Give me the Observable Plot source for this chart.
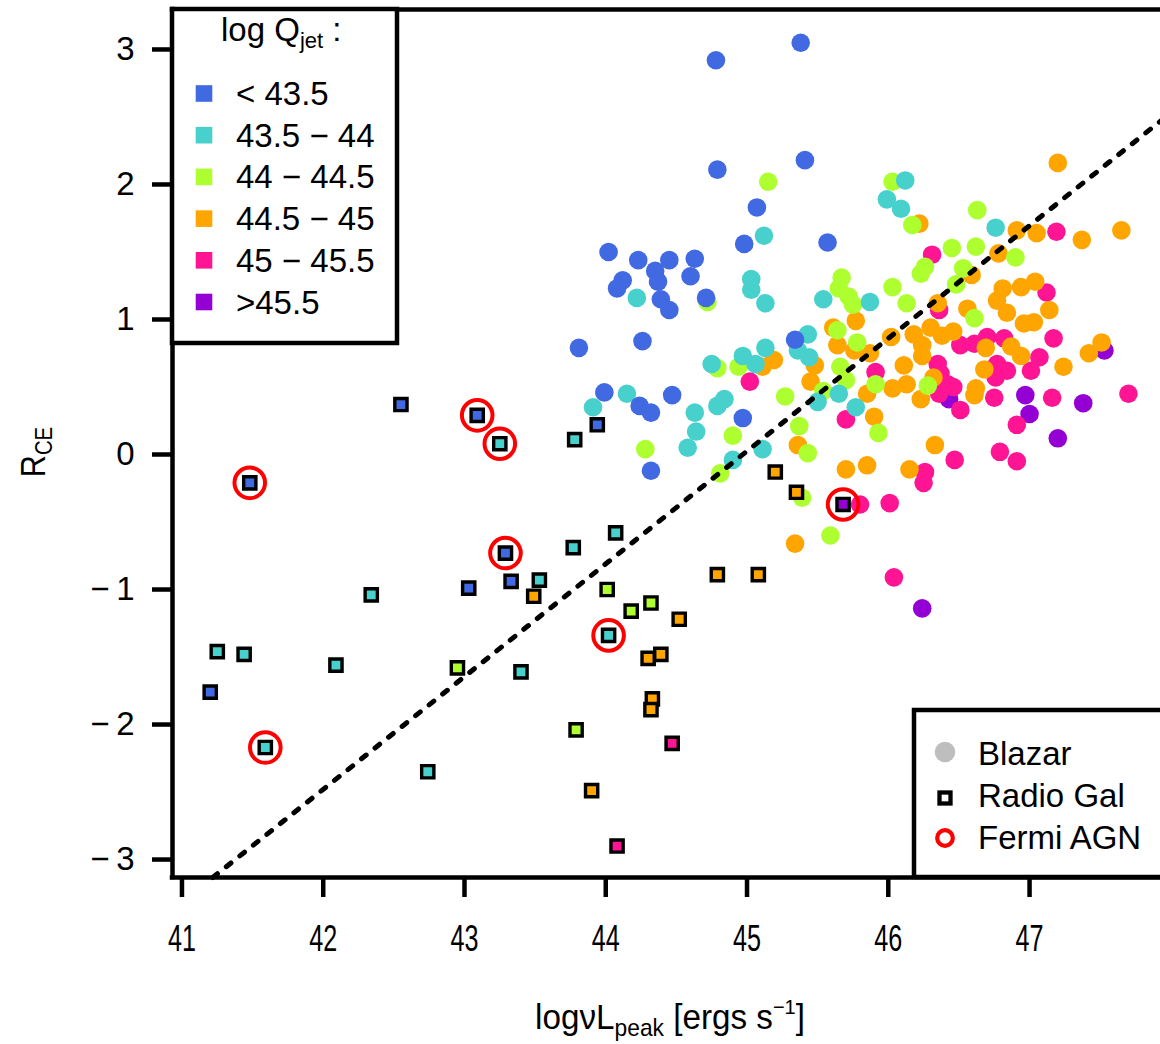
<!DOCTYPE html>
<html><head><meta charset="utf-8">
<script src="https://cdn.jsdelivr.net/npm/d3@7"></script>
<script src="https://cdn.jsdelivr.net/npm/@observablehq/plot@0.6"></script>
<style>
html,body{margin:0;padding:0;background:#fff;}
#chart{width:1160px;height:1044px;overflow:hidden;position:relative;}
</style></head><body><div id="chart"></div>
<script>
// ---------- axes ----------
const xDomain = [40.933, 47.927];
const yDomain = [-3.133, 3.296];
const xTicks = [41, 42, 43, 44, 45, 46, 47];
const yTicks = [-3, -2, -1, 0, 1, 2, 3];

// ---------- categories ----------
const groups = ["< 43.5", "43.5 \u2212 44", "44 \u2212 44.5", "44.5 \u2212 45", "45 \u2212 45.5", ">45.5"];
const groupColors = ["#4169E1", "#48D1CC", "#ADFF2F", "#FFA500", "#FF1493", "#9400D3"];
const typeLabels = ["Blazar", "Radio Gal", "Fermi AGN"];

// ---------- blazars (circles), per log Qjet bin ----------
const blueX = [45.38, 44.78, 44.79, 45.41, 45.07, 44.98, 45.57, 44.02, 44.23, 44.45, 44.63, 44.35, 44.37, 44.60, 44.12, 44.08, 44.39, 44.45, 44.71, 43.81, 44.26, 45.34, 43.99, 44.47, 44.24, 44.32, 44.97, 44.32];
const blueY = [3.05, 2.92, 2.11, 2.18, 1.83, 1.56, 1.57, 1.50, 1.44, 1.44, 1.45, 1.36, 1.28, 1.32, 1.29, 1.23, 1.15, 1.07, 1.16, 0.79, 0.84, 0.85, 0.46, 0.44, 0.36, 0.31, 0.27, -0.12];

const cyanX = [45.12, 44.22, 45.03, 45.03, 45.13, 45.54, 45.43, 45.36, 45.44, 44.75, 44.97, 45.13, 45.06, 44.15, 43.91, 44.63, 44.79, 44.84, 45.50, 45.65, 45.77, 44.64, 44.58, 45.11, 44.90, 46.12, 45.99, 46.09, 46.76, 45.87];
const cyanY = [1.62, 1.16, 1.30, 1.22, 1.12, 1.15, 0.89, 0.77, 0.72, 0.67, 0.73, 0.79, 0.67, 0.45, 0.35, 0.31, 0.36, 0.41, 0.39, 0.45, 0.35, 0.17, 0.05, 0.04, -0.04, 2.03, 1.89, 1.82, 1.68, 1.13];

const limeX = [45.15, 46.03, 46.17, 46.63, 46.45, 46.62, 46.90, 46.26, 46.23, 46.53, 46.48, 46.03, 46.13, 45.67, 45.65, 45.72, 45.75, 46.61, 45.64, 45.78, 44.94, 44.79, 45.66, 45.70, 45.27, 45.54, 45.91, 46.28, 44.90, 45.37, 45.43, 44.28, 44.81, 45.93, 45.39, 45.59, 44.72];
const limeY = [2.02, 2.02, 1.70, 1.81, 1.53, 1.54, 1.46, 1.39, 1.34, 1.38, 1.26, 1.24, 1.12, 1.31, 1.23, 1.17, 1.11, 1.01, 0.92, 0.83, 0.65, 0.64, 0.65, 0.55, 0.43, 0.47, 0.52, 0.51, 0.14, 0.21, 0.01, 0.04, -0.14, 0.16, -0.32, -0.60, 1.13];

const orangeX = [47.20, 46.22, 46.91, 47.05, 47.37, 47.65, 46.78, 46.59, 46.35, 46.56, 46.81, 46.77, 46.94, 47.04, 46.84, 46.96, 47.03, 47.14, 47.51, 46.02, 46.18, 46.30, 46.46, 45.77, 45.61, 45.64, 46.38, 46.69, 46.87, 46.94, 47.42, 47.24, 46.68, 45.87, 45.76, 46.11, 46.24, 46.24, 45.85, 46.03, 46.13, 46.32, 46.23, 46.62, 46.61, 45.90, 46.33, 45.70, 45.85, 46.15, 45.34, 45.19, 45.11, 45.48, 45.45, 45.36];
const orangeY = [2.16, 1.71, 1.66, 1.64, 1.59, 1.66, 1.49, 1.33, 1.12, 1.08, 1.23, 1.14, 1.24, 1.28, 1.05, 0.97, 0.98, 1.07, 0.83, 0.87, 0.89, 0.94, 0.91, 0.99, 0.94, 0.81, 0.88, 0.79, 0.80, 0.73, 0.75, 0.65, 0.63, 0.75, 0.77, 0.66, 0.81, 0.73, 0.45, 0.49, 0.52, 0.57, 0.41, 0.49, 0.44, 0.28, 0.07, -0.11, -0.08, -0.11, -0.66, 0.70, 0.65, 0.66, 0.54, 0.07];

const pinkX = [47.19, 46.31, 47.12, 47.17, 46.36, 46.51, 46.61, 46.70, 46.82, 47.07, 47.01, 46.84, 46.76, 46.35, 45.91, 46.37, 46.42, 46.36, 46.75, 46.51, 47.16, 47.70, 46.91, 46.79, 46.91, 46.47, 46.26, 46.25, 45.80, 46.01, 46.04, 45.02, 45.70, 46.46, 46.77];
const pinkY = [1.65, 1.48, 1.20, 0.86, 1.07, 0.81, 0.82, 0.87, 0.86, 0.72, 0.62, 0.62, 0.57, 0.67, 0.61, 0.60, 0.52, 0.45, 0.42, 0.33, 0.42, 0.45, 0.22, 0.02, -0.05, -0.04, -0.13, -0.21, -0.37, -0.36, -0.91, 0.54, 0.26, 0.50, 0.67];

const purpleX = [46.43, 46.97, 47.38, 47.00, 47.20, 46.24, 47.53];
const purpleY = [0.41, 0.44, 0.38, 0.30, 0.12, -1.14, 0.77];

// ---------- radio galaxies (squares) ----------
const radioX = [41.20, 41.25, 41.44, 41.48, 41.59, 42.09, 42.34, 42.55, 42.74, 42.95, 43.03, 43.09, 43.25, 43.29, 43.33, 43.40, 43.49, 43.53, 43.77, 43.78, 43.79, 43.90, 43.94, 44.01, 44.02, 44.07, 44.08, 44.18, 44.30, 44.32, 44.33, 44.32, 44.39, 44.47, 44.52, 44.79, 45.08, 45.20, 45.35, 45.68];
const radioY = [-1.76, -1.46, -1.48, -0.21, -2.17, -1.56, -1.04, 0.37, -2.35, -1.58, -0.99, 0.29, 0.08, -0.73, -0.94, -1.61, -1.05, -0.93, -0.69, 0.11, -2.04, -2.49, 0.22, -1.00, -1.34, -0.58, -2.90, -1.16, -1.51, -1.10, -1.81, -1.89, -1.48, -2.14, -1.22, -0.89, -0.89, -0.13, -0.28, -0.37];
const radioBin = [0, 1, 1, 0, 1, 1, 1, 0, 1, 2, 0, 0, 1, 0, 0, 1, 3, 1, 1, 1, 2, 3, 0, 2, 1, 1, 4, 2, 3, 2, 3, 3, 3, 4, 3, 3, 3, 3, 3, 5];
const radioFermi = [0, 0, 0, 1, 1, 0, 0, 0, 0, 0, 0, 1, 1, 1, 0, 0, 0, 0, 0, 0, 0, 0, 0, 0, 1, 0, 0, 0, 0, 0, 0, 0, 0, 0, 0, 0, 0, 0, 0, 1];

// ---------- dashed relation: R = slope * (L - pivot) ----------
const fitSlope = 0.835;
const fitPivot = 44.97;

// ---------- tables ----------
const blazarSets = [[blueX, blueY], [cyanX, cyanY], [limeX, limeY], [orangeX, orangeY], [pinkX, pinkY], [purpleX, purpleY]];
const blazars = [];
for (let g = blazarSets.length - 1; g >= 0; g--) {
  const [xs, ys] = blazarSets[g];
  xs.forEach((x, i) => blazars.push({x, y: ys[i], bin: groups[g]}));
}
const radio = radioX.map((x, i) => ({x, y: radioY[i], bin: groups[radioBin[i]], fermi: radioFermi[i] === 1}));
const fermi = radio.filter(d => d.fermi);
const fitLine = [
  {x: fitPivot + yDomain[0] / fitSlope, y: yDomain[0]},
  {x: xDomain[1], y: fitSlope * (xDomain[1] - fitPivot)}
];

const FONT = "'Liberation Sans', Arial, Helvetica, sans-serif";
const plot = Plot.plot({
  width: 1160, height: 1044,
  marginLeft: 172, marginRight: 0, marginTop: 9, marginBottom: 167,
  style: {fontFamily: FONT, fontSize: "33px", background: "white", color: "black", overflow: "visible"},
  x: {domain: xDomain, ticks: xTicks, tickSize: 20, tickPadding: 27, tickFormat: d => String(d), label: null},
  y: {domain: yDomain, ticks: yTicks, tickSize: 20, tickPadding: 18, tickFormat: d => d < 0 ? "\u2212\u2009" + Math.abs(d) : String(d), label: null},
  color: {domain: groups, range: groupColors},
  marks: [
    Plot.dot(blazars, {x: "x", y: "y", fill: "bin", r: 9.3}),
    Plot.line(fitLine, {x: "x", y: "y", stroke: "black", strokeWidth: 5, strokeDasharray: "6,11.3", strokeLinecap: "round"}),
    Plot.dot(radio, {x: "x", y: "y", fill: "bin", symbol: "square", r: 6.9, stroke: "black", strokeWidth: 3.4}),
    Plot.dot(fermi, {x: "x", y: "y", r: 15.3, stroke: "#FF0000", strokeWidth: 4, fill: "none"}),
    Plot.ruleY([yDomain[0], yDomain[1]], {stroke: "black", strokeWidth: 4.5, strokeLinecap: "square"}),
    Plot.ruleX([xDomain[0]], {stroke: "black", strokeWidth: 4.5, strokeLinecap: "square"})
  ]
});
document.getElementById("chart").appendChild(plot);

const svg = d3.select(plot);
svg.selectAll('[aria-label^="x-axis"] line, [aria-label^="x-axis"] path, [aria-label^="y-axis"] line, [aria-label^="y-axis"] path')
  .attr("stroke-width", 4.5).style("stroke-width", "4.5px").style("stroke", "black");
svg.selectAll('[aria-label^="x-axis"] text').each(function () {
  const t = this.getAttribute("transform");
  this.setAttribute("transform", (t ? t + " " : "") + "scale(0.68,1)");
}).style("font-size", "37px").style("fill", "black");
svg.selectAll('[aria-label^="y-axis"] text').style("font-size", "33px").style("fill", "black");

// ---------- legend 1: log Qjet ----------
const LF = 33;
const L1 = svg.append("g").attr("font-family", FONT).attr("text-anchor", "start");
L1.append("rect").attr("x", 172).attr("y", 9).attr("width", 225).attr("height", 334)
  .attr("fill", "white").attr("stroke", "black").attr("stroke-width", 4.5);
const t1 = L1.append("text").attr("x", 221).attr("y", 41).attr("font-size", LF);
t1.append("tspan").text("log Q");
t1.append("tspan").attr("font-size", 22).attr("dy", 7).text("jet");
t1.append("tspan").attr("dy", -7).text(" :");
groups.forEach((g, i) => {
  const cy = 93.5 + i * 41.7;
  L1.append("rect").attr("x", 195.7).attr("y", cy - 8.3).attr("width", 16.6).attr("height", 16.6).attr("fill", groupColors[i]);
  L1.append("text").attr("x", 236).attr("y", cy + 11.5).attr("font-size", LF).text(g);
});

// ---------- legend 2: object type ----------
const L2 = svg.append("g").attr("font-family", FONT).attr("text-anchor", "start");
L2.append("rect").attr("x", 914).attr("y", 710).attr("width", 260).attr("height", 167)
  .attr("fill", "white").attr("stroke", "black").attr("stroke-width", 4.5);
L2.append("circle").attr("cx", 945).attr("cy", 752).attr("r", 10.3).attr("fill", "#BEBEBE");
L2.append("rect").attr("x", 939.5).attr("y", 792.5).attr("width", 11).attr("height", 11).attr("fill", "white").attr("stroke", "black").attr("stroke-width", 4.3);
L2.append("circle").attr("cx", 945).attr("cy", 838).attr("r", 7.8).attr("fill", "white").attr("stroke", "#FF0000").attr("stroke-width", 4.2);
typeLabels.forEach((s, i) => {
  L2.append("text").attr("x", 978).attr("y", 764.5 + i * 42).attr("font-size", LF).text(s);
});

// ---------- axis titles ----------
const xt = svg.append("g").attr("transform", "translate(670,1029) scale(0.95,1)").attr("font-family", FONT).attr("text-anchor", "middle");
const xtt = xt.append("text").attr("font-size", 35);
xtt.append("tspan").text("log\u03BDL");
xtt.append("tspan").attr("font-size", 24).attr("dy", 7).text("peak");
xtt.append("tspan").attr("dy", -7).text(" [ergs s");
xtt.append("tspan").attr("font-size", 21).attr("dy", -15).text("\u22121");
xtt.append("tspan").attr("dy", 15).text("]");

const yt = svg.append("g").attr("transform", "translate(45,452) rotate(-90) scale(0.85,1)").attr("font-family", FONT).attr("text-anchor", "middle");
const ytt = yt.append("text").attr("font-size", 36);
ytt.append("tspan").text("R");
ytt.append("tspan").attr("font-size", 24).attr("dy", 7).text("CE");
</script></body></html>
